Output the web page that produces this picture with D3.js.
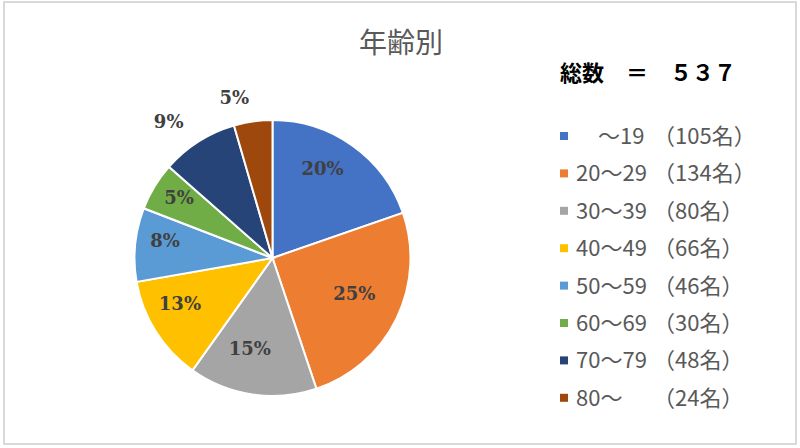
<!DOCTYPE html>
<html>
<head>
<meta charset="utf-8">
<script src="https://cdn.jsdelivr.net/npm/d3@7"></script>
<style>
  body { margin: 0; background: #fff; }
</style>
</head>
<body>
<script>
var w = 800;
var h = 448;

// data
var ranges = ['　～19', '20～29', '30～39', '40～49', '50～59', '60～69', '70～79', '80～'];
var counts = [105, 134, 80, 66, 46, 30, 48, 24];
var pctLabels = ['20%', '25%', '15%', '13%', '8%', '5%', '9%', '5%'];
var colors = ['#4472C4', '#ED7D31', '#A5A5A5', '#FFC000', '#5B9BD5', '#70AD47', '#264478', '#9E480E'];
var totalText = '総数　＝　５３７';
var title = '年齢別';

var cx = 272.5, cy = 258, r = 138;

var svg = d3.select('body')
  .append('svg')
  .attr('width', w)
  .attr('height', h);

// chart frame
svg.append('rect')
  .attr('x', 4)
  .attr('y', 2)
  .attr('width', 792)
  .attr('height', 442)
  .attr('fill', '#fff')
  .attr('stroke', '#d9d9d9')
  .attr('stroke-width', 2);

svg.append('text')
  .attr('x', 401)
  .attr('y', 53)
  .attr('text-anchor', 'middle')
  .attr('font-family', '"Noto Sans CJK JP"')
  .attr('font-size', 28)
  .attr('fill', '#595959')
  .text(title);

var pie = d3.pie().sort(null).value(function(d) { return d; });
var arcs = pie(counts);

var arc = d3.arc().innerRadius(0).outerRadius(r);
var inLabel = d3.arc().innerRadius(100).outerRadius(100);
var outLabel = d3.arc().innerRadius(166).outerRadius(166);

var g = svg.append('g')
  .attr('transform', 'translate(' + cx + ',' + cy + ')');

g.selectAll('path')
  .data(arcs)
  .enter()
  .append('path')
  .attr('d', arc)
  .attr('fill', function(d, i) { return colors[i]; })
  .attr('stroke', '#fff')
  .attr('stroke-width', 2);

// small slices at the top get their label outside (best fit)
g.selectAll('text.pct')
  .data(arcs)
  .enter()
  .append('text')
  .attr('class', 'pct')
  .attr('transform', function(d, i) {
    var p = i >= 6 ? outLabel.centroid(d) : inLabel.centroid(d);
    if (i < 6) { p[0] -= 8; p[1] -= 8; } else { p[1] += 4; }
    return 'translate(' + p[0] + ',' + p[1] + ')';
  })
  .attr('text-anchor', function(d, i) { return i >= 6 ? 'end' : 'middle'; })
  .attr('dy', '0.35em')
  .attr('font-family', '"DejaVu Serif", serif')
  .attr('font-weight', 'bold')
  .attr('font-size', 18)
  .attr('fill', '#404040')
  .text(function(d, i) { return pctLabels[i]; });

// total
svg.append('text')
  .attr('x', 560)
  .attr('y', 81)
  .attr('font-family', '"Noto Sans CJK JP"')
  .attr('font-size', 22)
  .attr('font-weight', 'bold')
  .attr('fill', '#000')
  .text(totalText);

// legend
var y = d3.scaleBand()
  .domain(d3.range(ranges.length))
  .range([117.3, 416.5]);

var leg = svg.selectAll('g.leg')
  .data(ranges)
  .enter()
  .append('g')
  .attr('class', 'leg')
  .attr('transform', function(d, i) { return 'translate(0,' + (y(i) + y.bandwidth() / 2) + ')'; });

leg.append('rect')
  .attr('x', 560)
  .attr('y', -4)
  .attr('width', 8)
  .attr('height', 8)
  .attr('fill', function(d, i) { return colors[i]; });

leg.append('text')
  .attr('x', 576)
  .attr('dy', '0.36em')
  .attr('font-family', '"Noto Sans CJK JP"')
  .attr('font-size', 22)
  .attr('fill', '#595959')
  .text(function(d) { return d; });

leg.append('text')
  .attr('x', 653)
  .attr('dy', '0.36em')
  .attr('font-family', '"Noto Sans CJK JP"')
  .attr('font-size', 22)
  .attr('fill', '#595959')
  .text(function(d, i) { return '（' + counts[i] + '名）'; });
</script>
</body>
</html>
